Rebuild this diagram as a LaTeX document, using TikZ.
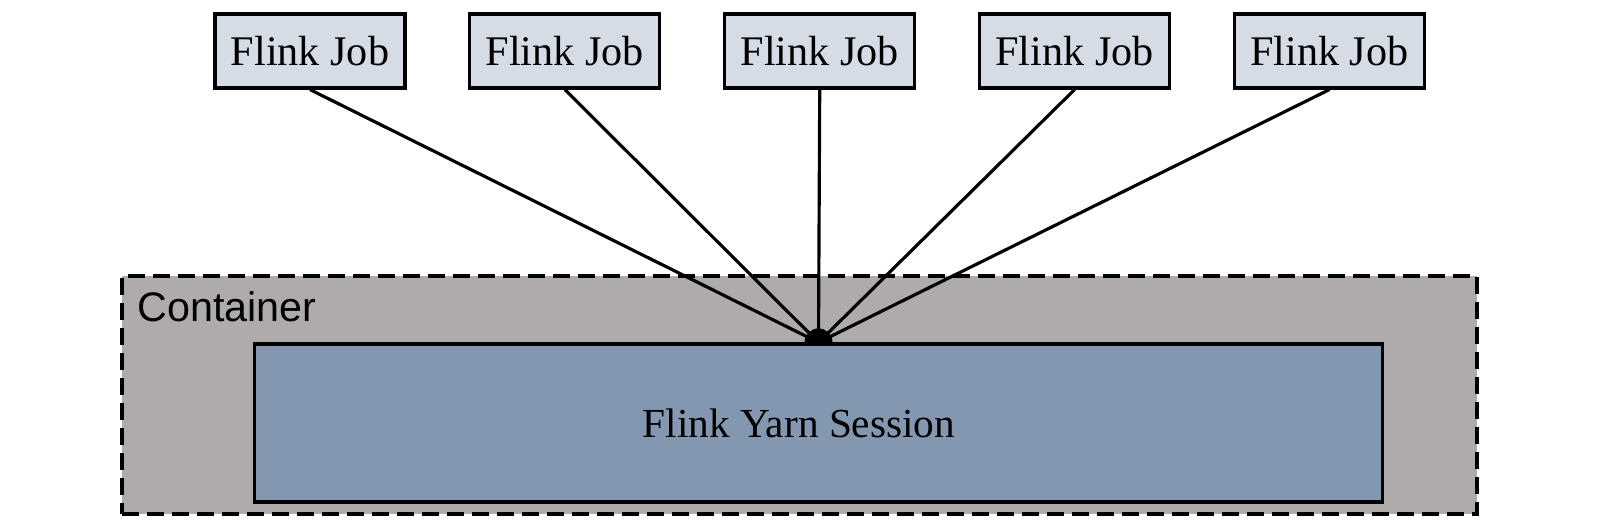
\documentclass[tikz,border=0pt]{standalone}
\usepackage{fontspec}
\setmainfont{Liberation Serif}
\newfontfamily\labelfont{Liberation Sans}
\usetikzlibrary{positioning}
\definecolor{jobfill}{HTML}{D6DCE5}
\definecolor{contfill}{HTML}{AFABAB}
\definecolor{sessfill}{HTML}{8497B0}

\begin{document}
\begin{tikzpicture}[x=0.02cm,y=-0.02cm,
    jobbox/.style={draw,line width=1.8pt,fill=jobfill,minimum width=3.8cm,minimum height=1.48cm,font=\fontsize{24}{28}\selectfont},
    link/.style={line width=1.8pt}]
\useasboundingbox (0,0) rectangle (1597,526);
\node[draw,line width=1.9pt,dash pattern=on 0.34cm off 0.16cm,fill=contfill,minimum width=27.1cm,minimum height=4.76cm] (cont) at (799.5,395) {};
\node[anchor=north west,inner sep=0pt,font=\labelfont\fontsize{23.5}{27}\selectfont] (contlabel) at (137,291) {Container};
\node[draw,line width=1.8pt,fill=sessfill,minimum width=22.58cm,minimum height=3.16cm] (sess) at (818.5,423) {};
\node[font=\fontsize{23.5}{28}\selectfont] (sesslabel) at (799,423) {Flink Yarn Session};
\coordinate (hub) at (sess.north);
% jobs
\node[jobbox] (job1) at (310,51) {Flink Job};
\node[jobbox,right=1.235cm of job1] (job2) {Flink Job};
\node[jobbox,right=1.235cm of job2] (job3) {Flink Job};
\node[jobbox,right=1.235cm of job3] (job4) {Flink Job};
\node[jobbox,right=1.235cm of job4] (job5) {Flink Job};
\foreach \j in {1,...,5}
  \draw[link] (job\j.south) -- (hub);
\fill (hub) ++(-0.28cm,0) arc (180:0:0.28cm) -- cycle;
\end{tikzpicture}
\end{document}
